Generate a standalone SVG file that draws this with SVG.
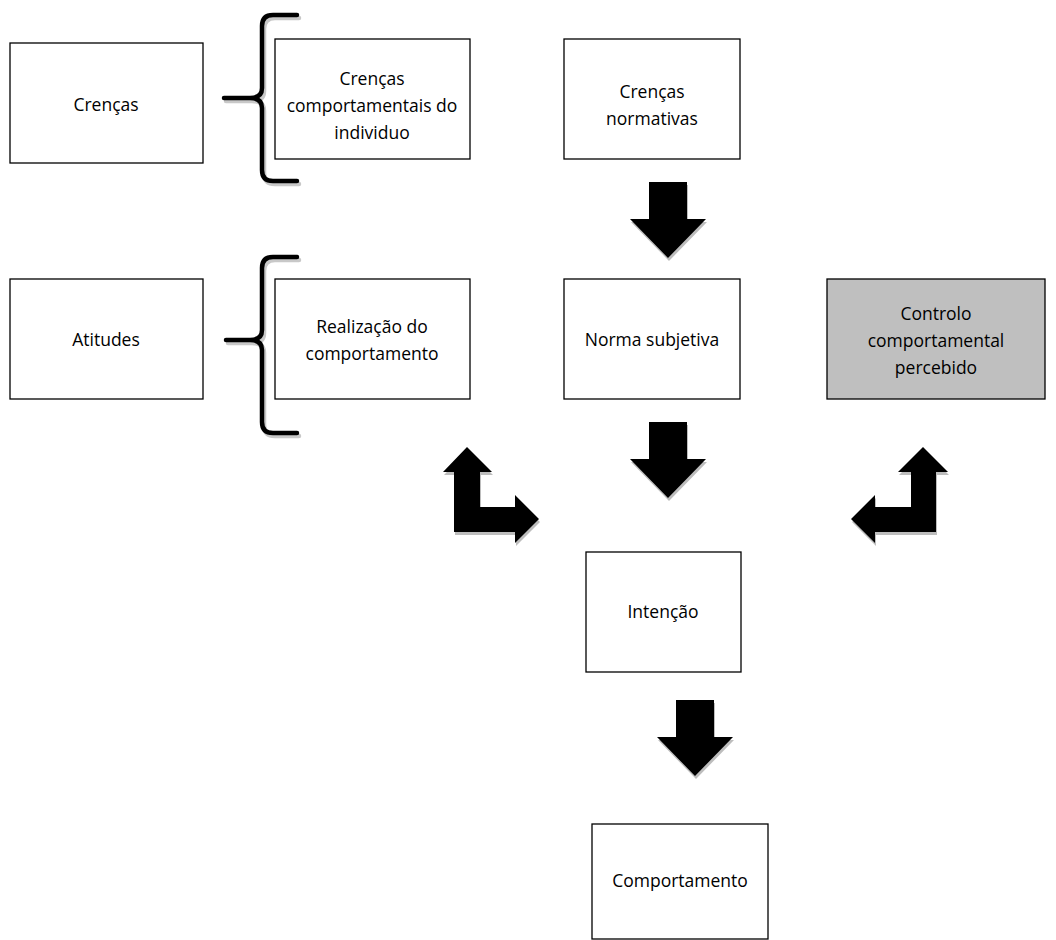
<svg xmlns="http://www.w3.org/2000/svg" xmlns:xlink="http://www.w3.org/1999/xlink" width="1056" height="940" viewBox="0 0 1056 940">
<style>
.box{fill:#fff;stroke:#000;stroke-width:1.3}
.grey{fill:#bfbfbf}
.t{font-family:"Open Sans","DejaVu Sans",sans-serif;font-size:17.5px;fill:#000;text-anchor:middle}
.arr{fill:#000}
.sh{fill:#bdbdbd}
.br{fill:none;stroke:#000;stroke-width:4.5;stroke-linecap:round;stroke-linejoin:round}
.brs{fill:none;stroke:#c8c8c8;stroke-width:4.5;stroke-linecap:round;stroke-linejoin:round}
</style>
<defs>
<path id="down" d="M649,182 H687 V219 H706 L668,258 L630,219 H649 Z"/>
<path id="bentL" d="M467,447 L492,472 H480 V507 H515 V495 L539,519 L515,543 V532 H454 V472 H443 Z"/>
<path id="bentR" d="M923,447 L948,472 H936 V532 H875 V543 L851,519 L875,495 V507 H911 V472 H898 Z"/>
<path id="brace" d="M297,15 H273 Q262,15 262,26 V88 Q262,98 250,98 H224 M250,98 Q262,98 262,108 V170 Q262,181 273,181 H297"/>
<path id="brace2" d="M297,257 H273 Q262,257 262,268 V330 Q262,340 250,340 H226 M250,340 Q262,340 262,350 V422 Q262,433 273,433 H297"/>
</defs>
<g id="connectors">
<use xlink:href="#brace" class="brs" transform="translate(2,3)"/>
<use xlink:href="#brace" class="br"/>
<use xlink:href="#brace2" class="brs" transform="translate(2,3)"/>
<use xlink:href="#brace2" class="br"/>
<use xlink:href="#down" class="sh" transform="translate(1,3)"/>
<use xlink:href="#down" class="arr"/>
<use xlink:href="#down" class="sh" transform="translate(1,243)"/>
<use xlink:href="#down" class="arr" transform="translate(0,240)"/>
<use xlink:href="#down" class="sh" transform="translate(28,521)"/>
<use xlink:href="#down" class="arr" transform="translate(27,518)"/>
<use xlink:href="#bentL" class="sh" transform="translate(1,3)"/>
<use xlink:href="#bentL" class="arr"/>
<use xlink:href="#bentR" class="sh" transform="translate(1,3)"/>
<use xlink:href="#bentR" class="arr"/>
</g>
<g id="n-crencas"><rect class="box" x="10" y="43" width="193" height="120"/><text class="t" x="106" y="111">Crenças</text></g>
<g id="n-crencas-comp"><rect class="box" x="275" y="39" width="195" height="120"/><text class="t" x="372" y="85">Crenças</text><text class="t" x="372" y="112">comportamentais do</text><text class="t" x="372" y="139">individuo</text></g>
<g id="n-crencas-norm"><rect class="box" x="564" y="39" width="176" height="120"/><text class="t" x="652" y="98">Crenças</text><text class="t" x="652" y="125">normativas</text></g>
<g id="n-atitudes"><rect class="box" x="10" y="279" width="193" height="120"/><text class="t" x="106" y="346">Atitudes</text></g>
<g id="n-realizacao"><rect class="box" x="275" y="279" width="195" height="120"/><text class="t" x="372" y="333">Realização do</text><text class="t" x="372" y="360">comportamento</text></g>
<g id="n-norma"><rect class="box" x="564" y="279" width="176" height="120"/><text class="t" x="652" y="346">Norma subjetiva</text></g>
<g id="n-controlo"><rect class="box grey" x="827" y="279" width="218" height="120"/><text class="t" x="936" y="320">Controlo</text><text class="t" x="936" y="347">comportamental</text><text class="t" x="936" y="374">percebido</text></g>
<g id="n-intencao"><rect class="box" x="586" y="552" width="155" height="120"/><text class="t" x="663" y="618">Intenção</text></g>
<g id="n-comportamento"><rect class="box" x="592" y="824" width="176" height="115"/><text class="t" x="680" y="887">Comportamento</text></g>
</svg>
